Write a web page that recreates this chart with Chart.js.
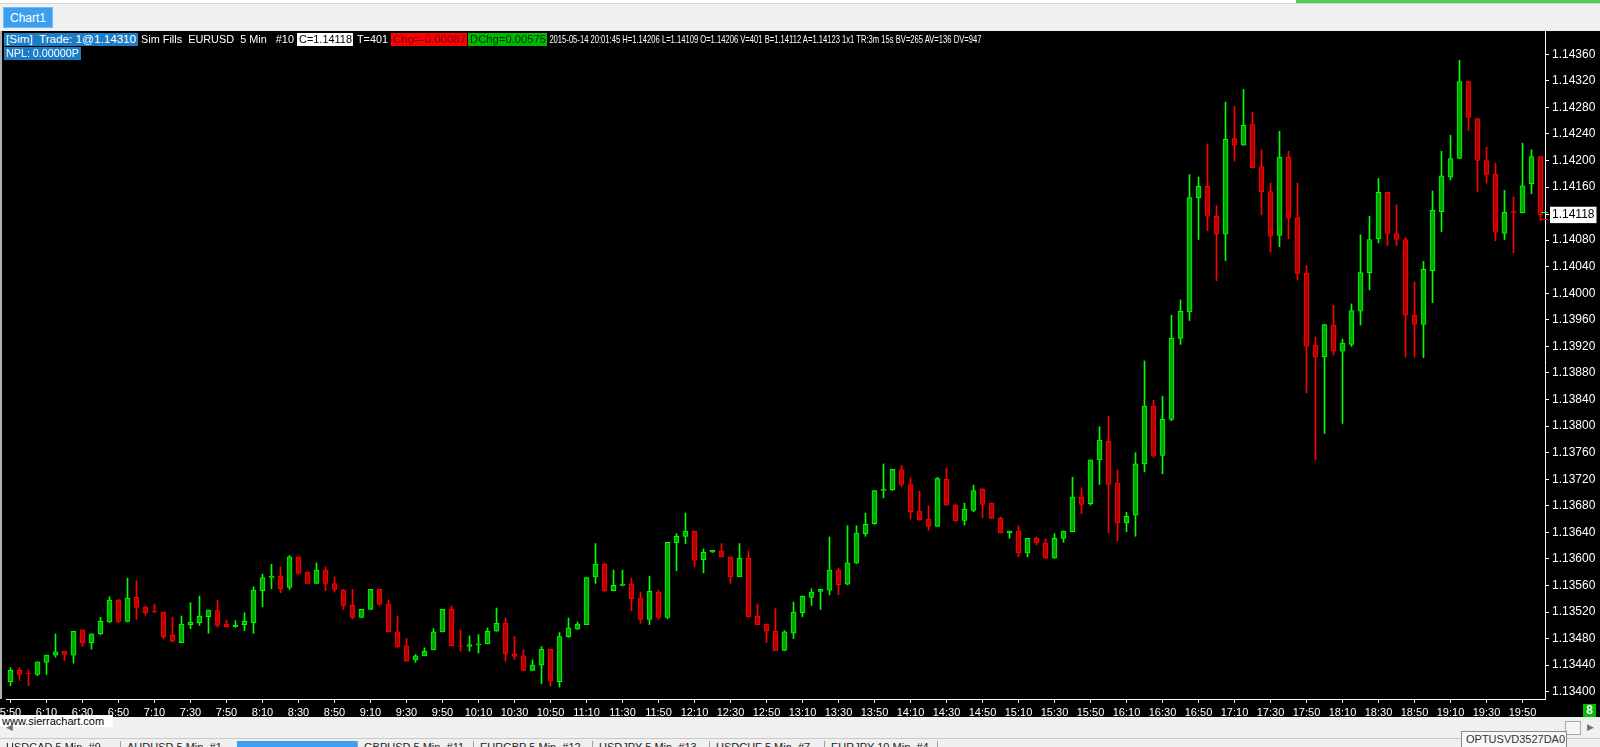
<!DOCTYPE html>
<html>
<head>
<meta charset="utf-8">
<title>EURUSD 5 Min</title>
<script src="https://cdn.jsdelivr.net/npm/chart.js@4.4.1/dist/chart.umd.min.js"></script>
<style>
  body { margin: 0; width: 1600px; height: 747px; overflow: hidden; position: relative;
         background: #f0f0f0; font-family: "Liberation Sans", Arial, sans-serif; }
  div { box-sizing: border-box; }
  #topstrip { position: absolute; left: 0; top: 0; width: 1600px; height: 4px; background: #fff; border-bottom: 1px solid #d4d4d4; }
  #topgreen { position: absolute; left: 1296px; top: 0; width: 304px; height: 3px; background: #4cd44c; }
  #tab { position: absolute; left: 3px; top: 7px; width: 50px; height: 21px; background: #3d9ff2; color: #fff;
         font-size: 12px; line-height: 20px; text-align: center; border: 1px solid #7ab8f0; }
  #plot { position: absolute; left: 0; top: 31px; width: 1600px; height: 686px; background: #000; }
  #leftedge { position: absolute; left: 0; top: 31px; width: 2px; height: 668px; background: #b0b0b0; }
  .seg { position: absolute; height: 13px; overflow: hidden; white-space: nowrap; font-size: 11px; line-height: 13px; color: #fff; }
  .seg span { display: inline-block; transform-origin: 0 0; padding-left: 2px; }
  #site { position: absolute; left: 0; top: 715px; width: 113px; height: 12px; background: #fff; color: #000;
          font-size: 11px; line-height: 12px; padding-left: 2px; white-space: nowrap; }
  #eight { position: absolute; left: 1583px; top: 704px; width: 13px; height: 13px; background: #00c000; color: #fff;
           font-size: 12px; font-weight: bold; line-height: 13px; text-align: center; }
  #thumb { position: absolute; left: 1565px; top: 721px; width: 16px; height: 14px; background: #f4f4f4; border: 1px solid #a8a8a8; }
  .arrow { position: absolute; top: 722px; font-size: 9px; color: #707070; }
  #tabline { position: absolute; left: 0; top: 738px; width: 1600px; height: 1px; background: #c8c8c8; }
  .btab { position: absolute; top: 741px; height: 10px; font-size: 11px; line-height: 12px; color: #222; white-space: nowrap;
          border-left: 1px solid #a0a0a0; padding-left: 6px; }
  #bluetab { position: absolute; left: 237px; top: 741px; width: 120px; height: 8px; background: #3d9ff2; }
  #tipbox { position: absolute; left: 1461px; top: 731px; width: 106px; height: 18px; background: #f8f8f8; border: 1px solid #8a8a8a;
            font-size: 11px; line-height: 15px; color: #333; padding-left: 4px; white-space: nowrap; }
</style>
</head>
<body>
<div id="topstrip"></div>
<div id="topgreen"></div>
<div id="tab">Chart1</div>
<div id="plot"><canvas id="candles" width="1600" height="686"></canvas></div>
<div id="leftedge"></div>

<div class="seg" style="left:4px;top:33px;width:134px;background:#1c7dc6;" data-w="130"><span>[Sim]&nbsp; Trade: 1@1.14310</span></div>
<div class="seg" style="left:139px;top:33px;width:157px;" data-w="153"><span>Sim Fills&nbsp; EURUSD&nbsp; 5 Min&nbsp; &nbsp;#10</span></div>
<div class="seg" style="left:297px;top:33px;width:56px;background:#fff;color:#000;" data-w="53"><span>C=1.14118</span></div>
<div class="seg" style="left:355px;top:33px;width:34px;" data-w="31"><span>T=401</span></div>
<div class="seg" style="left:391px;top:33px;width:76px;background:#ff0000;color:#700000;" data-w="73"><span>Chg=-0.00087</span></div>
<div class="seg" style="left:468px;top:33px;width:79px;background:#00b800;color:#003000;" data-w="76"><span>DChg=0.00575</span></div>
<div class="seg" style="left:548px;top:33px;width:436px;" data-w="432"><span>2015-05-14 20:01:45 H=1.14206 L=1.14109 O=1.14206 V=401 B=1.14112 A=1.14123 1x1 TR:3m 15s BV=265 AV=136 DV=947</span></div>
<div class="seg" style="left:4px;top:47px;width:77px;background:#1c7dc6;" data-w="73"><span>NPL: 0.00000P</span></div>

<div id="site">www.sierrachart.com</div>
<div id="eight">8</div>
<div class="arrow" style="left:6px;">&#9664;</div>
<div id="thumb"></div>
<div class="arrow" style="left:1587px;">&#9654;</div>
<div id="tabline"></div>
<div class="btab" style="left:0px;border-left:none;">USDCAD 5 Min&nbsp; #9</div>
<div class="btab" style="left:120px;">AUDUSD 5 Min&nbsp; #1</div>
<div id="bluetab"></div>
<div class="btab" style="left:357px;">GBPUSD 5 Min&nbsp; #11</div>
<div class="btab" style="left:473px;">EURGBP 5 Min&nbsp; #12</div>
<div class="btab" style="left:592px;">USDJPY 5 Min&nbsp; #13</div>
<div class="btab" style="left:709px;">USDCHF 5 Min&nbsp; #7</div>
<div class="btab" style="left:824px;">EURJPY 10 Min&nbsp; #4</div>
<div class="btab" style="left:937px;"></div>
<div id="tipbox">OPTUSVD3527DA0</div>

<script>
// EURUSD 5 min bars
const startTime = '5:50';
const barMinutes = 5;
const labelEvery = 4;

const opens = [
  1.13415, 1.13432, 1.13428, 1.13426, 1.13444, 1.13455, 1.13461, 1.13455, 1.13493, 1.13474,
  1.13487, 1.13505, 1.13538, 1.13506, 1.13542, 1.13527, 1.13521, 1.13520, 1.13485, 1.13474,
  1.13501, 1.13504, 1.13513, 1.13522, 1.13502, 1.13498, 1.13501, 1.13504, 1.13552, 1.13572,
  1.13574, 1.13557, 1.13603, 1.13580, 1.13563, 1.13583, 1.13563, 1.13553, 1.13530, 1.13512,
  1.13524, 1.13554, 1.13532, 1.13490, 1.13469, 1.13448, 1.13454, 1.13463, 1.13490, 1.13524,
  1.13469, 1.13468, 1.13470, 1.13472, 1.13491, 1.13503, 1.13457, 1.13454, 1.13432, 1.13440,
  1.13464, 1.13415, 1.13483, 1.13494, 1.13501, 1.13573, 1.13592, 1.13552, 1.13560, 1.13562,
  1.13541, 1.13509, 1.13550, 1.13512, 1.13624, 1.13634, 1.13642, 1.13599, 1.13610, 1.13612,
  1.13603, 1.13573, 1.13601, 1.13514, 1.13502, 1.13491, 1.13462, 1.13488, 1.13519, 1.13542,
  1.13551, 1.13553, 1.13583, 1.13562, 1.13594, 1.13638, 1.13653, 1.13703, 1.13704, 1.13734,
  1.13712, 1.13672, 1.13660, 1.13649, 1.13720, 1.13681, 1.13658, 1.13673, 1.13705, 1.13684,
  1.13661, 1.13639, 1.13642, 1.13609, 1.13631, 1.13624, 1.13601, 1.13631, 1.13641, 1.13693,
  1.13683, 1.13749, 1.13777, 1.13714, 1.13654, 1.13666, 1.13743, 1.13830, 1.13756, 1.13810,
  1.13932, 1.13972, 1.14144, 1.14161, 1.14116, 1.14089, 1.14233, 1.14223, 1.14254, 1.14191,
  1.14153, 1.14087, 1.14205, 1.14114, 1.14030, 1.13922, 1.13904, 1.13952, 1.13913, 1.13923,
  1.13973, 1.14031, 1.14082, 1.14152, 1.14090, 1.14081, 1.13967, 1.13953, 1.14034, 1.14123,
  1.14175, 1.14203, 1.14319, 1.14263, 1.14200, 1.14179, 1.14090, 1.14123, 1.14121, 1.14165,
  1.14206
];
const highs = [
  1.13436, 1.13436, 1.13433, 1.13445, 1.13455, 1.13487, 1.13461, 1.13491, 1.13493, 1.13487,
  1.13512, 1.13543, 1.13539, 1.13571, 1.13567, 1.13529, 1.13532, 1.13520, 1.13512, 1.13514,
  1.13534, 1.13544, 1.13523, 1.13538, 1.13508, 1.13507, 1.13519, 1.13558, 1.13577, 1.13592,
  1.13588, 1.13605, 1.13603, 1.13580, 1.13594, 1.13588, 1.13573, 1.13554, 1.13554, 1.13524,
  1.13554, 1.13554, 1.13538, 1.13514, 1.13480, 1.13456, 1.13466, 1.13495, 1.13524, 1.13529,
  1.13493, 1.13484, 1.13486, 1.13496, 1.13526, 1.13511, 1.13483, 1.13463, 1.13448, 1.13468,
  1.13464, 1.13489, 1.13511, 1.13505, 1.13572, 1.13623, 1.13594, 1.13583, 1.13583, 1.13571,
  1.13550, 1.13574, 1.13553, 1.13625, 1.13638, 1.13669, 1.13642, 1.13615, 1.13613, 1.13623,
  1.13603, 1.13623, 1.13612, 1.13532, 1.13502, 1.13525, 1.13492, 1.13535, 1.13544, 1.13555,
  1.13554, 1.13633, 1.13586, 1.13650, 1.13650, 1.13669, 1.13703, 1.13743, 1.13735, 1.13741,
  1.13722, 1.13702, 1.13680, 1.13723, 1.13737, 1.13682, 1.13684, 1.13711, 1.13706, 1.13684,
  1.13663, 1.13642, 1.13650, 1.13631, 1.13633, 1.13630, 1.13638, 1.13642, 1.13723, 1.13707,
  1.13749, 1.13799, 1.13815, 1.13734, 1.13670, 1.13760, 1.13898, 1.13839, 1.13845, 1.13967,
  1.13990, 1.14179, 1.14175, 1.14225, 1.14132, 1.14288, 1.14282, 1.14307, 1.14273, 1.14216,
  1.14166, 1.14244, 1.14214, 1.14166, 1.14042, 1.13934, 1.13953, 1.13982, 1.13931, 1.13984,
  1.14088, 1.14116, 1.14173, 1.14152, 1.14133, 1.14084, 1.14017, 1.14048, 1.14154, 1.14214,
  1.14238, 1.14351, 1.14319, 1.14263, 1.14220, 1.14196, 1.14155, 1.14145, 1.14226, 1.14216,
  1.14206
];
const lows = [
  1.13409, 1.13417, 1.13409, 1.13424, 1.13426, 1.13452, 1.13447, 1.13443, 1.13468, 1.13464,
  1.13486, 1.13504, 1.13504, 1.13505, 1.13509, 1.13515, 1.13519, 1.13480, 1.13475, 1.13474,
  1.13495, 1.13500, 1.13488, 1.13497, 1.13497, 1.13497, 1.13492, 1.13488, 1.13528, 1.13555,
  1.13549, 1.13554, 1.13577, 1.13563, 1.13563, 1.13552, 1.13550, 1.13524, 1.13510, 1.13512,
  1.13524, 1.13530, 1.13490, 1.13467, 1.13446, 1.13444, 1.13454, 1.13463, 1.13490, 1.13469,
  1.13461, 1.13461, 1.13458, 1.13472, 1.13491, 1.13446, 1.13449, 1.13432, 1.13432, 1.13412,
  1.13408, 1.13407, 1.13482, 1.13494, 1.13501, 1.13563, 1.13551, 1.13552, 1.13560, 1.13522,
  1.13503, 1.13501, 1.13509, 1.13510, 1.13582, 1.13623, 1.13588, 1.13579, 1.13610, 1.13603,
  1.13563, 1.13573, 1.13513, 1.13501, 1.13474, 1.13462, 1.13462, 1.13480, 1.13513, 1.13530,
  1.13524, 1.13546, 1.13546, 1.13561, 1.13593, 1.13634, 1.13652, 1.13692, 1.13703, 1.13709,
  1.13660, 1.13658, 1.13643, 1.13649, 1.13681, 1.13657, 1.13651, 1.13671, 1.13662, 1.13661,
  1.13639, 1.13631, 1.13603, 1.13603, 1.13621, 1.13601, 1.13601, 1.13625, 1.13641, 1.13668,
  1.13681, 1.13712, 1.13639, 1.13627, 1.13641, 1.13634, 1.13731, 1.13753, 1.13728, 1.13808,
  1.13923, 1.13959, 1.14081, 1.14094, 1.14019, 1.14049, 1.14199, 1.14223, 1.14189, 1.14118,
  1.14062, 1.14070, 1.14082, 1.14020, 1.13850, 1.13749, 1.13789, 1.13907, 1.13804, 1.13920,
  1.13952, 1.14005, 1.14076, 1.14072, 1.14072, 1.13904, 1.13904, 1.13903, 1.13986, 1.14093,
  1.14171, 1.14203, 1.14245, 1.14153, 1.14166, 1.14079, 1.14081, 1.14061, 1.14121, 1.14150,
  1.14109
];
const closes = [
  1.13432, 1.13426, 1.13427, 1.13445, 1.13455, 1.13460, 1.13456, 1.13491, 1.13474, 1.13487,
  1.13506, 1.13538, 1.13506, 1.13541, 1.13527, 1.13519, 1.13520, 1.13483, 1.13476, 1.13502,
  1.13505, 1.13514, 1.13523, 1.13500, 1.13498, 1.13500, 1.13506, 1.13553, 1.13572, 1.13574,
  1.13555, 1.13603, 1.13578, 1.13563, 1.13583, 1.13563, 1.13554, 1.13530, 1.13512, 1.13524,
  1.13554, 1.13532, 1.13490, 1.13467, 1.13446, 1.13454, 1.13461, 1.13490, 1.13524, 1.13469,
  1.13468, 1.13471, 1.13472, 1.13491, 1.13503, 1.13457, 1.13453, 1.13432, 1.13440, 1.13464,
  1.13416, 1.13483, 1.13496, 1.13502, 1.13572, 1.13592, 1.13552, 1.13560, 1.13562, 1.13540,
  1.13509, 1.13551, 1.13512, 1.13625, 1.13634, 1.13642, 1.13598, 1.13610, 1.13613, 1.13603,
  1.13573, 1.13601, 1.13513, 1.13501, 1.13491, 1.13462, 1.13490, 1.13520, 1.13544, 1.13550,
  1.13554, 1.13583, 1.13561, 1.13594, 1.13639, 1.13652, 1.13703, 1.13705, 1.13735, 1.13712,
  1.13671, 1.13659, 1.13649, 1.13721, 1.13681, 1.13657, 1.13675, 1.13703, 1.13682, 1.13661,
  1.13639, 1.13642, 1.13609, 1.13631, 1.13624, 1.13601, 1.13631, 1.13642, 1.13693, 1.13682,
  1.13749, 1.13779, 1.13712, 1.13654, 1.13664, 1.13743, 1.13830, 1.13756, 1.13810, 1.13932,
  1.13973, 1.14144, 1.14161, 1.14116, 1.14089, 1.14232, 1.14223, 1.14253, 1.14189, 1.14153,
  1.14086, 1.14205, 1.14113, 1.14030, 1.13920, 1.13904, 1.13953, 1.13913, 1.13925, 1.13974,
  1.14031, 1.14081, 1.14152, 1.14090, 1.14081, 1.13967, 1.13953, 1.14036, 1.14125, 1.14177,
  1.14203, 1.14319, 1.14265, 1.14200, 1.14179, 1.14092, 1.14122, 1.14121, 1.14162, 1.14206,
  1.14118
];

const priceMin = 1.13389;
const priceMax = 1.14395;
const priceStep = 0.0004;
const lastPrice = 1.14118;
const bidPrice = 1.14112;
const askPrice = 1.14123;

const upLine = '#00ff00', upFill = '#00a400';
const downLine = '#ff0000', downFill = '#b40000';

// time labels for every bar
const times = [];
let hh = parseInt(startTime.split(':')[0]);
let mm = parseInt(startTime.split(':')[1]);
for (let i = 0; i < opens.length; i++) {
  times.push(hh + ':' + String(mm).padStart(2, '0'));
  mm += barMinutes;
  if (mm >= 60) { mm -= 60; hh++; }
}

const isUp = closes.map((c, i) => c >= opens[i]);

// small bid / ask dashes next to the last bar
const bidAskMarks = {
  id: 'bidAskMarks',
  afterDatasetsDraw(chart) {
    const ctx = chart.ctx;
    const y = chart.scales.y;
    const right = chart.chartArea.right;
    ctx.save();
    [[askPrice, upLine], [bidPrice, downLine]].forEach(([p, col]) => {
      const py = Math.round(y.getPixelForValue(p)) + 0.5;
      ctx.strokeStyle = col;
      ctx.lineWidth = 1;
      ctx.beginPath();
      ctx.moveTo(right - 4, py);
      ctx.lineTo(right + 3, py);
      ctx.stroke();
    });
    ctx.restore();
  }
};

const ctx = document.getElementById('candles').getContext('2d');
new Chart(ctx, {
  type: 'bar',
  data: {
    labels: times,
    datasets: [
      {
        label: 'body',
        data: opens.map((o, i) => [o, closes[i]]),
        backgroundColor: isUp.map(u => u ? upFill : downFill),
        borderColor: isUp.map(u => u ? upLine : downLine),
        borderWidth: 1,
        borderSkipped: false,
        barThickness: 5,
        grouped: false,
        order: 0,
      },
      {
        label: 'wick',
        data: lows.map((l, i) => [l, highs[i]]),
        backgroundColor: isUp.map(u => u ? upLine : downLine),
        borderWidth: 0,
        barThickness: 1,
        grouped: false,
        order: 1,
      },
    ],
  },
  options: {
    responsive: false,
    animation: false,
    devicePixelRatio: 1,
    layout: { padding: { left: 6, right: 0, top: 0, bottom: 0 } },
    plugins: { legend: { display: false }, tooltip: { enabled: false } },
    scales: {
      x: {
        offset: true,
        grid: {
          drawOnChartArea: false,
          offset: false,
          tickLength: 4,
          color: (c) => (c.index % labelEvery === 0 ? '#ffffff' : 'rgba(0,0,0,0)'),
        },
        border: { color: '#ffffff' },
        ticks: {
          autoSkip: false,
          maxRotation: 0,
          padding: 3,
          color: '#ffffff',
          font: { family: 'Liberation Sans', size: 11 },
          callback: (v, i) => (i % labelEvery === 0 ? times[i] : ''),
        },
        afterFit: (s) => { s.height = 18; s.paddingLeft = 0; s.paddingRight = 0; },
      },
      y: {
        position: 'right',
        min: priceMin,
        max: priceMax,
        grid: { drawOnChartArea: false, tickLength: 4, color: '#ffffff' },
        border: { color: '#ffffff' },
        ticks: {
          stepSize: priceStep,
          includeBounds: false,
          autoSkip: false,
          padding: 3,
          font: { family: 'Liberation Sans', size: 12 },
          color: (c) => (c.tick && Math.abs(c.tick.value - lastPrice) < 1e-9 ? '#000000' : '#ffffff'),
          showLabelBackdrop: true,
          backdropColor: (c) => (c.tick && Math.abs(c.tick.value - lastPrice) < 1e-9 ? '#ffffff' : 'rgba(0,0,0,0)'),
          backdropPadding: { x: 2, y: 1 },
          callback: (v) => Number(v).toFixed(5),
        },
        afterBuildTicks: (s) => {
          const kept = s.ticks.filter(t => Math.abs(t.value - lastPrice) > 0.00025);
          kept.push({ value: lastPrice });
          kept.sort((a, b) => a.value - b.value);
          s.ticks = kept;
        },
        afterFit: (s) => { s.width = 55; s.paddingTop = 0; s.paddingBottom = 0; },
      },
    },
  },
  plugins: [bidAskMarks],
});

// squeeze the header texts into their boxes
document.querySelectorAll('.seg').forEach(function (el) {
  const span = el.querySelector('span');
  const target = parseFloat(el.dataset.w);
  const w = span.getBoundingClientRect().width - 2;
  if (w > 0) span.style.transform = 'scaleX(' + (target / w) + ')';
});
</script>
</body>
</html>
